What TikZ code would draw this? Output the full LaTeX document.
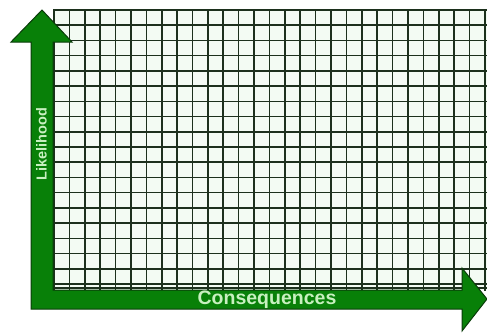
\documentclass[tikz,border=0pt]{standalone}
\usepackage{fontspec}
\setmainfont{Liberation Sans}
\usepackage{tikz}
\usepackage{xcolor}
\definecolor{axisgreen}{RGB}{8,128,8}
\definecolor{axisdark}{RGB}{10,60,10}
\definecolor{cellfill}{RGB}{243,251,243}
\definecolor{gridline}{RGB}{28,48,28}
\definecolor{labelgreen}{RGB}{200,240,192}
\begin{document}
\begin{tikzpicture}[x=1pt, y=-1pt]
  \useasboundingbox (0,0) rectangle (487,333);
  \fill[cellfill] (54,10) rectangle (487,290);
  \foreach \i in {0,...,28} {
    \pgfmathsetmacro{\xpos}{54+\i*15.39}
    \draw[gridline, line width=1.6pt] (\xpos,9) -- (\xpos,291);
  }
  \foreach \j in {0,...,18} {
    \pgfmathsetmacro{\ypos}{10+\j*15.22}
    \draw[gridline, line width=1.6pt] (53,\ypos) -- (487,\ypos);
  }
  \draw[gridline, line width=1.2pt] (53,288) -- (487,288);
  \filldraw[fill=axisgreen, draw=axisdark, line width=1pt, line join=miter]
    (42,10) -- (72,42) -- (53,42) -- (53,290) -- (462,290) -- (462,268)
    -- (487,299) -- (462,331) -- (462,309) -- (31,309) -- (31,42) -- (11,42) -- cycle;
  \node[rotate=90, font=\fontsize{14.5}{14.5}\selectfont\bfseries, labelgreen, inner sep=0pt]
    (likelihood) at (41.5,144) {Likelihood};
  \node[font=\fontsize{19.5}{19.5}\selectfont\bfseries, labelgreen, inner sep=0pt]
    (consequences) at (267,299.5) {Consequences};
\end{tikzpicture}
\end{document}
